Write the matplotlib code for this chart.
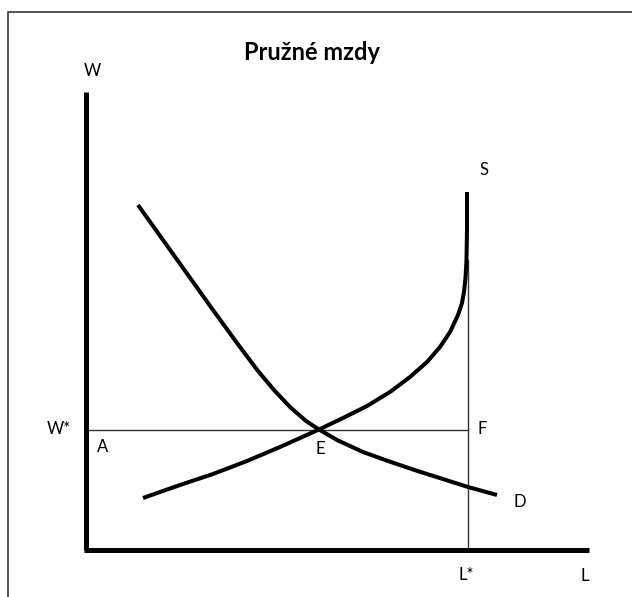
import matplotlib.pyplot as plt
import numpy as np

plt.rcParams['font.family'] = ['Lato', 'DejaVu Sans']

# curve points (L along x, W along y, origin at axes corner)
d_L = [52, 77, 102, 127, 151, 172, 188, 204, 220, 233, 251, 277, 302, 330, 360, 382, 411]
d_W = [345, 310, 275, 240, 207, 179, 160, 143, 129, 120.5, 110, 98, 89, 79.5, 70, 63, 55]

s_L = [57, 94, 127, 161, 194, 233, 257, 281, 304, 324, 341, 354, 364, 372, 376, 378, 379.5, 380.5, 381, 381]
s_W = [52, 65, 76, 89, 103, 120.5, 132, 144, 158, 173, 188, 203, 218, 235, 247, 258, 272, 290, 320, 358]

w_star = 120.5
l_star = 382

fig = plt.figure(figsize=(6.32, 5.97), dpi=100)
ax = fig.add_axes([0, 0, 1, 1])
ax.set_xlim(-86, 546)
ax.set_ylim(-47, 550)
ax.axis('off')

# outer frame (only left and top edges visible)
ax.plot([-78, -78, 560], [-60, 538, 538], color='#444444', lw=1.3, clip_on=False)

# equilibrium lines
ax.plot([0, l_star], [w_star, w_star], color='#333333', lw=1.0)
ax.plot([l_star, l_star], [0, 290], color='#333333', lw=1.0)

# axes
ax.plot([0, 0], [0, 458], color='black', lw=3.6, solid_capstyle='butt')
ax.plot([-2, 503], [0, 0], color='black', lw=3.6, solid_capstyle='butt')

# curves
ax.plot(d_L, d_W, color='black', lw=2.9, solid_capstyle='butt', solid_joinstyle='round')
ax.plot(s_L, s_W, color='black', lw=2.9, solid_capstyle='butt', solid_joinstyle='round')

txt = dict(fontsize=12, ha='center', va='center', color='black')
ax.text(6, 479, 'W', **txt)
ax.text(398, 380, 'S', **txt)
ax.text(-27, w_star + 1, 'W*', **txt)
ax.text(17, 103, 'A', **txt)
ax.text(234, 101, 'E', **txt)
ax.text(396, w_star, 'F', **txt)
ax.text(434, 48, 'D', **txt)
ax.text(l_star - 2, -25, 'L*', **txt)
ax.text(499, -26, 'L', **txt)

ax.text(226, 498, 'Pružné mzdy', fontsize=17, fontweight='bold',
        ha='center', va='center')

fig.savefig('out.png', dpi=100)
